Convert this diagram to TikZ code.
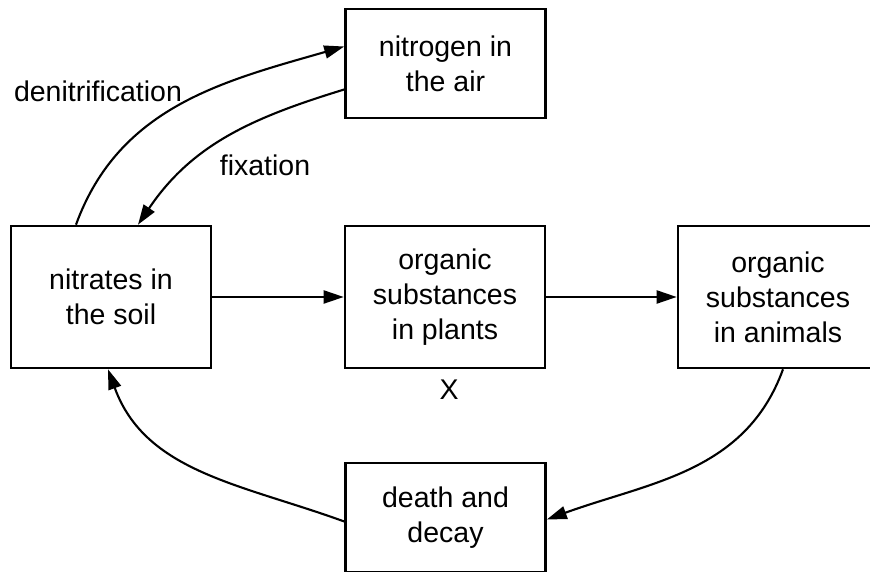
\documentclass[tikz,border=0pt]{standalone}
\usepackage{fontspec}
\setmainfont{Liberation Sans}
\usetikzlibrary{arrows.meta}

\begin{document}
\begin{tikzpicture}[x=1pt,y=1pt]
\tikzset{every node/.style={font=\fontsize{28.5}{35}\selectfont}}
\tikzset{box/.style={draw,line width=2.6pt,align=center,minimum width=200pt,inner sep=0pt}}
\tikzset{flow/.style={line width=2.1pt,-{Triangle[length=20pt,width=13pt]}}}
\useasboundingbox (0,0) rectangle (870,572);
% boxes
\node[box,minimum height=109pt] (air) at (445.5,508.5) {nitrogen in\\the air};
\node[box,minimum height=142pt] (soil) at (111,275) {nitrates in\\the soil};
\node[box,minimum height=142pt] (plants) at (445,275) {organic\\substances\\in plants};
\node[box,minimum height=142pt] (animals) at (778,275) {organic\\substances\\in animals};
\node[box,minimum height=109pt] (decay) at (445.5,54.5) {death and\\decay};
% labels
\node (denit) at (98,481) {denitrification};
\node (fix) at (265,407) {fixation};
\node (x) at (449,182) {X};
% cycle
\draw[flow] ([xshift=-35pt]soil.north) to[out=70,in=196] ([yshift=17pt]air.west);
\draw[flow] ([yshift=-26pt]air.west) to[out=197,in=56] ([xshift=27pt]soil.north);
\draw[flow] (soil.east) -- (plants.west);
\draw[flow] (plants.east) -- (animals.west);
\draw[flow] ([xshift=5pt]animals.south) to[out=250,in=20] ([yshift=-2pt]decay.east);
\draw[flow] ([yshift=-4pt]decay.west) to[out=160,in=290] ([xshift=-3pt]soil.south);
\end{tikzpicture}
\end{document}
